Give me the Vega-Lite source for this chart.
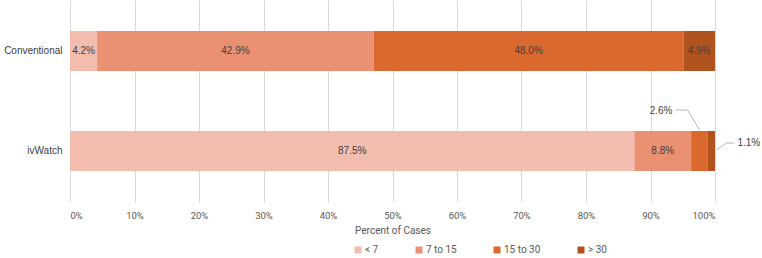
{
  "$schema": "https://vega.github.io/schema/vega-lite/v6.json",
  "width": 645,
  "height": 202,
  "autosize": {"type": "none"},
  "padding": {"left": 70, "top": 0, "right": 47, "bottom": 56},
  "background": "white",
  "config": {"view": {"stroke": null}, "font": "Liberation Sans"},
  "data": {"values": [
    {"group": "Conventional", "cat": "< 7", "k": 1, "value": 4.2},
    {"group": "Conventional", "cat": "7 to 15", "k": 2, "value": 42.9},
    {"group": "Conventional", "cat": "15 to 30", "k": 3, "value": 48.0},
    {"group": "Conventional", "cat": "> 30", "k": 4, "value": 4.9},
    {"group": "ivWatch", "cat": "< 7", "k": 1, "value": 87.5},
    {"group": "ivWatch", "cat": "7 to 15", "k": 2, "value": 8.8},
    {"group": "ivWatch", "cat": "15 to 30", "k": 3, "value": 2.6},
    {"group": "ivWatch", "cat": "> 30", "k": 4, "value": 1.1}
  ]},
  "transform": [
    {"stack": "value", "groupby": ["group"], "sort": [{"field": "k", "order": "ascending"}], "as": ["v0", "v1"]},
    {"calculate": "(datum.v0 + datum.v1) / 2", "as": "mid"},
    {"calculate": "format(datum.value, '.1f') + '%'", "as": "label"}
  ],
  "encoding": {
    "y": {
      "field": "group", "type": "nominal", "sort": ["Conventional", "ivWatch"],
      "scale": {"paddingInner": 0.6, "paddingOuter": 0.31},
      "axis": {"title": null, "domain": false, "ticks": false, "labelFontSize": 10, "labelColor": "#404040", "labelPadding": 8}
    }
  },
  "layer": [
    {
      "mark": {"type": "bar"},
      "encoding": {
        "x": {
          "field": "v0", "type": "quantitative", "scale": {"domain": [0, 100]},
          "axis": {
            "values": [0, 10, 20, 30, 40, 50, 60, 70, 80, 90, 100],
            "labelExpr": "datum.value + '%'",
            "domain": false, "ticks": false, "gridColor": "#d9d9d9",
            "labelColor": "#595959", "labelFontSize": 9.5, "labelPadding": 8,
            "labelFont": "Roboto",
            "title": "Percent of Cases", "titleFontSize": 10, "titleFontWeight": "normal",
            "titleColor": "#595959", "titlePadding": 6, "titleFont": "Roboto"
          }
        },
        "x2": {"field": "v1"},
        "color": {
          "field": "cat", "type": "nominal",
          "scale": {"domain": ["< 7", "7 to 15", "15 to 30", "> 30"], "range": ["#F2BDAF", "#EB9173", "#D9692E", "#B0531F"]},
          "legend": {
            "title": null, "orient": "none", "legendX": 283, "legendY": 245, "direction": "horizontal",
            "symbolType": "square", "symbolSize": 49, "symbolStrokeWidth": 0,
            "labelFontSize": 10, "labelColor": "#595959", "labelFont": "Roboto",
            "columnPadding": 35, "labelOffset": 2
          }
        }
      }
    },
    {
      "transform": [{"filter": "datum.value >= 4"}],
      "mark": {"type": "text", "fontSize": 10, "color": "#404040", "baseline": "middle"},
      "encoding": {
        "x": {"field": "mid", "type": "quantitative"},
        "text": {"field": "label"}
      }
    },
    {
      "transform": [{"filter": "datum.group == 'ivWatch' && datum.k == 3"}],
      "mark": {"type": "text", "fontSize": 10, "color": "#404040", "align": "right", "baseline": "middle", "dx": -27, "dy": -40},
      "encoding": {"x": {"field": "mid", "type": "quantitative"}, "text": {"field": "label"}}
    },
    {
      "transform": [{"filter": "datum.group == 'ivWatch' && datum.k == 3"}],
      "mark": {"type": "rule", "color": "#a6a6a6", "strokeWidth": 0.8, "xOffset": 0, "yOffset": -21, "x2Offset": -12, "y2Offset": -41},
      "encoding": {"x": {"field": "mid", "type": "quantitative"}, "x2": {"field": "mid"}, "y2": {"field": "group"}}
    },
    {
      "transform": [{"filter": "datum.group == 'ivWatch' && datum.k == 3"}],
      "mark": {"type": "rule", "color": "#a6a6a6", "strokeWidth": 0.8, "xOffset": -12, "yOffset": -41, "x2Offset": -24},
      "encoding": {"x": {"field": "mid", "type": "quantitative"}, "x2": {"field": "mid"}}
    },
    {
      "transform": [{"filter": "datum.group == 'ivWatch' && datum.k == 4"}],
      "mark": {"type": "text", "fontSize": 10, "color": "#404040", "align": "left", "baseline": "middle", "dx": 26, "dy": -8},
      "encoding": {"x": {"field": "mid", "type": "quantitative"}, "text": {"field": "label"}}
    },
    {
      "transform": [{"filter": "datum.group == 'ivWatch' && datum.k == 4"}],
      "mark": {"type": "rule", "color": "#a6a6a6", "strokeWidth": 0.8, "xOffset": 5, "yOffset": -1, "x2Offset": 15, "y2Offset": -8},
      "encoding": {"x": {"field": "mid", "type": "quantitative"}, "x2": {"field": "mid"}, "y2": {"field": "group"}}
    },
    {
      "transform": [{"filter": "datum.group == 'ivWatch' && datum.k == 4"}],
      "mark": {"type": "rule", "color": "#a6a6a6", "strokeWidth": 0.8, "xOffset": 15, "yOffset": -8, "x2Offset": 23},
      "encoding": {"x": {"field": "mid", "type": "quantitative"}, "x2": {"field": "mid"}}
    }
  ]
}
